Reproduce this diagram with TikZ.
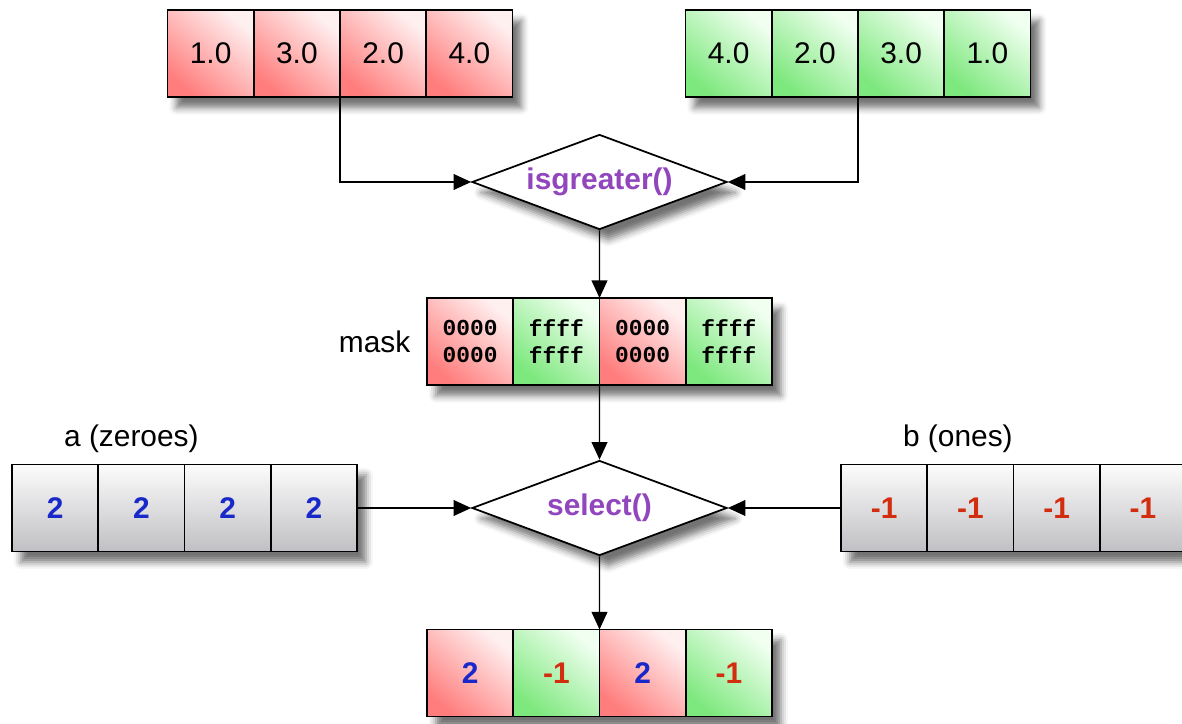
\documentclass[tikz,border=0pt]{standalone}
\usepackage{fontspec}
\setmainfont{Liberation Sans}
\setmonofont{Liberation Mono}
\usetikzlibrary{shapes.geometric}
\usetikzlibrary{arrows.meta}
\usetikzlibrary{positioning}
\usetikzlibrary{shadows.blur}
\usetikzlibrary{backgrounds, fit}

\definecolor{redlight}{RGB}{255,240,240}
\definecolor{reddark}{RGB}{255,125,125}
\definecolor{greenlight}{RGB}{240,255,240}
\definecolor{greendark}{RGB}{125,232,125}
\definecolor{graylight}{RGB}{252,252,252}
\definecolor{graydark}{RGB}{192,192,196}
\definecolor{funcpurple}{RGB}{145,70,190}
\definecolor{numblue}{RGB}{25,40,200}
\definecolor{numred}{RGB}{210,45,15}

\newcommand{\maskzero}{0000\\0000}
\newcommand{\maskone}{ffff\\ffff}

\tikzset{
  cell/.style={draw, line width=1pt, minimum width=1.725cm, minimum height=1.74cm,
    inner sep=0pt, outer sep=0pt, font=\fontsize{17}{20}\selectfont},
  redcell/.style={cell, top color=redlight, bottom color=reddark, shading angle=-40},
  greencell/.style={cell, top color=greenlight, bottom color=greendark, shading angle=-40},
  graycell/.style={cell, top color=graylight, bottom color=graydark},
  masktext/.style={align=center, font=\ttfamily\bfseries\fontsize{13}{15}\selectfont},
  bluenum/.style={text=numblue, font=\fontsize{17}{20}\selectfont\bfseries},
  rednum/.style={text=numred, font=\fontsize{17}{20}\selectfont\bfseries},
  arrayshadow/.style={blur shadow={shadow xshift=5pt, shadow yshift=-6pt,
    shadow blur radius=4pt, shadow opacity=55}},
  func/.style={diamond, aspect=2.68, draw, line width=1pt, fill=white,
    minimum width=5.1cm, minimum height=1.9cm, inner sep=0pt, text=funcpurple,
    font=\fontsize{17}{20}\selectfont\bfseries, arrayshadow},
  label/.style={font=\fontsize{17}{20}\selectfont},
  arr/.style={-{Triangle[length=10pt,width=9pt]}, line width=0.8pt}
}

\begin{document}
\begin{tikzpicture}
  \useasboundingbox (0,0) rectangle (23.64,14.46);

  % Input arrays
  \foreach \v [count=\i] in {1.0,3.0,2.0,4.0}
    \node[redcell] (r\i) at (3.35+\i*1.725-0.8625,13.39) {\v};
  \foreach \v [count=\i] in {4.0,2.0,3.0,1.0}
    \node[greencell] (g\i) at (13.71+\i*1.725-0.8625,13.39) {\v};

  % Compare
  \node[func] (gt) at (11.99,10.82) {isgreater()};

  % Mask
  \foreach \v/\s [count=\i] in {\maskzero/redcell,\maskone/greencell,\maskzero/redcell,\maskone/greencell}
    \node[\s, masktext] (m\i) at (8.54+\i*1.725-0.8625,7.63) {\v};
  \node[label, left=6pt of m1] (masklabel) {mask};

  % Select
  \node[func] (sel) at (11.99,4.30) {select()};

  % a and b
  \foreach \i in {1,...,4}
    \node[graycell, bluenum] (a\i) at (0.24+\i*1.725-0.8625,4.30) {2};
  \foreach \i in {1,...,4}
    \node[graycell, rednum] (b\i) at (16.82+\i*1.725-0.8625,4.30) {-1};
  \node[label, above=3pt of a2, xshift=-0.2cm] (alabel) {a (zeroes)};
  \node[label, above=3pt of b2, xshift=-0.25cm] (blabel) {b (ones)};

  % Result
  \foreach \v/\s/\t [count=\i] in {2/redcell/bluenum,-1/greencell/rednum,2/redcell/bluenum,-1/greencell/rednum}
    \node[\s, \t] (s\i) at (8.54+\i*1.725-0.8625,1.00) {\v};

  % Shadows of the arrays
  \begin{scope}[on background layer]
    \foreach \n in {r,g,m,a,b,s}
      \node[fit=(\n1)(\n4), inner sep=0pt, arrayshadow] {};
  \end{scope}

  % Connectors
  \draw[arr] (r2.south east) |- (gt.west);
  \draw[arr] (g2.south east) |- (gt.east);
  \draw[arr] (gt.south) -- (m2.north east);
  \draw[arr] (m2.south east) -- (sel.north);
  \draw[arr] (a4.east) -- (sel.west);
  \draw[arr] (b1.west) -- (sel.east);
  \draw[arr] (sel.south) -- (s2.north east);
\end{tikzpicture}
\end{document}
